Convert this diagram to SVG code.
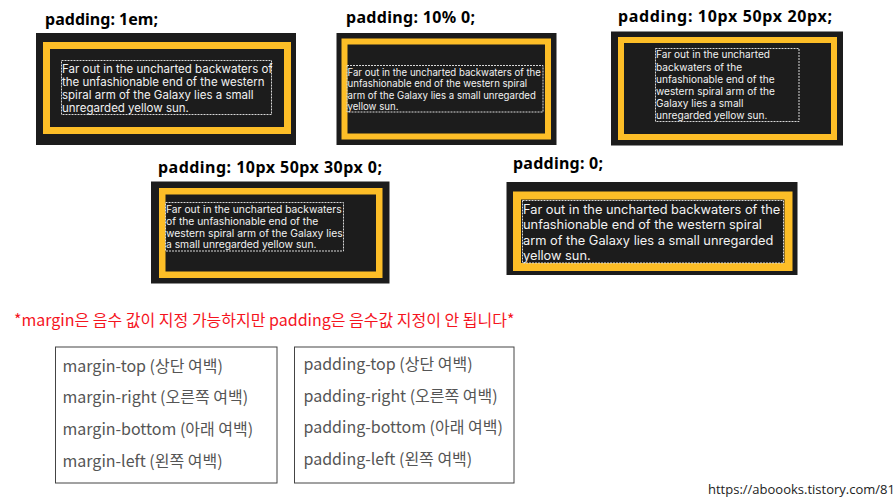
<svg xmlns="http://www.w3.org/2000/svg" width="896" height="502" viewBox="0 0 896 502">
<style>
.bg{fill:#1c1c1c}
.bd{fill:none;stroke:#fdbe27}
.db{fill:none;stroke:#d8d8d8;stroke-width:1;stroke-dasharray:2 1}
.t{font-family:Inter,"Noto Sans",sans-serif;fill:#f2f2f2}
.h{font-family:"Noto Sans","Liberation Sans",sans-serif;font-weight:700;font-size:16px;fill:#000}
.r{font-family:"Noto Sans CJK KR","Noto Sans",sans-serif;font-size:16px;fill:#f5141e}
.l{font-family:"Noto Sans CJK KR","Noto Sans",sans-serif;font-size:16px;fill:#555}
.box{fill:#fff;stroke:#444;stroke-width:1}
.u{font-family:"Open Sans","Liberation Sans",sans-serif;font-size:13px;fill:#222}
</style>
<rect width="896" height="502" fill="#fff"/>

<g id="panel1">
<text class="h" x="45" y="25" textLength="113" lengthAdjust="spacing">padding: 1em;</text>
<rect class="bg" x="36" y="33" width="260" height="112"/>
<rect class="bd" stroke-width="7" x="46.5" y="45.5" width="241" height="85"/>
<rect class="db" x="61.5" y="60.5" width="210" height="54"/>
<text class="t" font-size="11.5" x="62" y="72.5">Far out in the uncharted backwaters of</text>
<text class="t" font-size="11.5" x="62" y="85.8">the unfashionable end of the western</text>
<text class="t" font-size="11.5" x="62" y="99">spiral arm of the Galaxy lies a small</text>
<text class="t" font-size="11.5" x="62" y="112.3">unregarded yellow sun.</text>
</g>

<g id="panel2">
<text class="h" x="346" y="23" textLength="129" lengthAdjust="spacing">padding: 10% 0;</text>
<rect class="bg" x="336.5" y="33" width="220" height="112"/>
<rect class="bd" stroke-width="6" x="344.5" y="41.5" width="203.5" height="95"/>
<rect class="db" x="347" y="65.5" width="196" height="46.5"/>
<text class="t" font-size="9.65" x="347.5" y="75.5">Far out in the uncharted backwaters of the</text>
<text class="t" font-size="9.65" x="347.5" y="87">unfashionable end of the western spiral</text>
<text class="t" font-size="9.65" x="347.5" y="98.5">arm of the Galaxy lies a small unregarded</text>
<text class="t" font-size="9.65" x="347.5" y="110">yellow sun.</text>
</g>

<g id="panel3">
<text class="h" x="618" y="22" textLength="214" lengthAdjust="spacing">padding: 10px 50px 20px;</text>
<rect class="bg" x="611" y="31.5" width="232" height="114"/>
<rect class="bd" stroke-width="6" x="621" y="40" width="213" height="97"/>
<rect class="db" x="655.5" y="48.5" width="143.5" height="73"/>
<text class="t" font-size="10.1" x="656" y="58.3">Far out in the uncharted</text>
<text class="t" font-size="10.1" x="656" y="70.5">backwaters of the</text>
<text class="t" font-size="10.1" x="656" y="82.7">unfashionable end of the</text>
<text class="t" font-size="10.1" x="656" y="94.9">western spiral arm of the</text>
<text class="t" font-size="10.1" x="656" y="107.1">Galaxy lies a small</text>
<text class="t" font-size="10.1" x="656" y="119.3">unregarded yellow sun.</text>
</g>

<g id="panel4">
<text class="h" x="158" y="173" textLength="224" lengthAdjust="spacing">padding: 10px 50px 30px 0;</text>
<rect class="bg" x="151" y="181.5" width="238.5" height="102"/>
<rect class="bd" stroke-width="6.5" x="162.25" y="191.25" width="217" height="83.5"/>
<rect class="db" x="165.5" y="202.5" width="178" height="48.5"/>
<text class="t" font-size="10.3" x="166" y="213.3">Far out in the uncharted backwaters</text>
<text class="t" font-size="10.3" x="166" y="225">of the unfashionable end of the</text>
<text class="t" font-size="10.3" x="166" y="236.7">western spiral arm of the Galaxy lies</text>
<text class="t" font-size="10.3" x="166" y="248.4">a small unregarded yellow sun.</text>
</g>

<g id="panel5">
<text class="h" x="513" y="169" textLength="90" lengthAdjust="spacing">padding: 0;</text>
<rect class="bg" x="506.5" y="182" width="291" height="93"/>
<rect class="bd" stroke-width="8" x="517" y="195.5" width="271.5" height="71.5"/>
<rect class="db" x="522.5" y="200.5" width="261" height="62.5"/>
<text class="t" font-size="12.8" x="523" y="213.5">Far out in the uncharted backwaters of the</text>
<text class="t" font-size="12.8" x="523" y="229">unfashionable end of the western spiral</text>
<text class="t" font-size="12.8" x="523" y="244.5">arm of the Galaxy lies a small unregarded</text>
<text class="t" font-size="12.8" x="523" y="260">yellow sun.</text>
</g>

<text class="r" x="14" y="325.5">*margin은 음수 값이 지정 가능하지만 padding은 음수값 지정이 안 됩니다*</text>

<g id="margin-list">
<rect class="box" x="55.5" y="347" width="221.5" height="136"/>
<text class="l" x="62.5" y="371.5">margin-top (상단 여백)</text>
<text class="l" x="62.5" y="403.2">margin-right (오른쪽 여백)</text>
<text class="l" x="62.5" y="434.9">margin-bottom (아래 여백)</text>
<text class="l" x="62.5" y="466.6">margin-left (왼쪽 여백)</text>
</g>

<g id="padding-list">
<rect class="box" x="294.5" y="347" width="219.5" height="136"/>
<text class="l" x="303.5" y="370">padding-top (상단 여백)</text>
<text class="l" x="303.5" y="401.7">padding-right (오른쪽 여백)</text>
<text class="l" x="303.5" y="433.4">padding-bottom (아래 여백)</text>
<text class="l" x="303.5" y="465.1">padding-left (왼쪽 여백)</text>
</g>

<text class="u" x="708" y="493.5">https://aboooks.tistory.com/81</text>
<g id="connectors"/>
</svg>
